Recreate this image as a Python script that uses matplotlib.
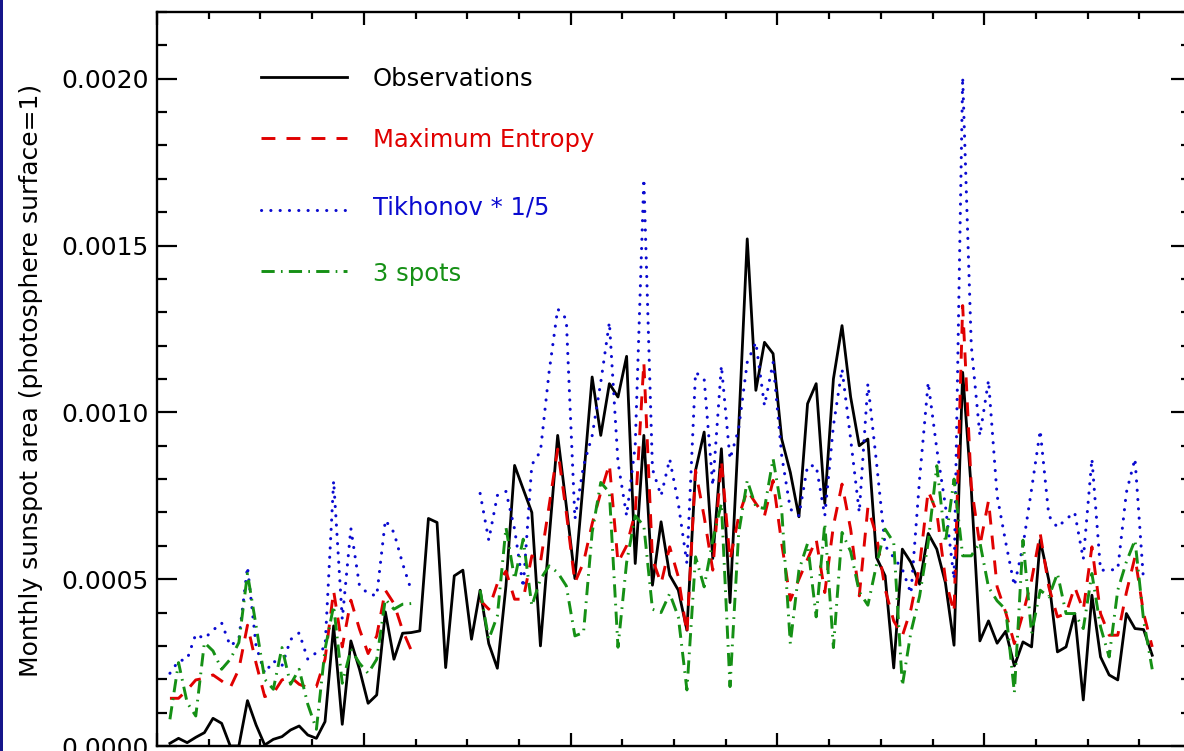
import numpy as np
import matplotlib
matplotlib.use("Agg")
import matplotlib.pyplot as plt
from matplotlib.patches import Rectangle
from matplotlib.ticker import MultipleLocator, FormatStrFormatter

plt.rcParams['font.family'] = ['DejaVu Sans']
plt.rcParams['lines.scale_dashes'] = False

nan = np.nan

# month index (data plotted at mid-month)
month = np.arange(1, 116) + 0.5

# values in units of 1e-4 (photosphere surface = 1)
obs_e4 = [0.08, 0.23, 0.10, 0.26, 0.40, 0.83, 0.68, 0.00, 0.00, 1.36,
          0.63, 0.03, 0.20, 0.28, 0.48, 0.60, 0.33, 0.23, 0.73, 3.60,
          0.65, 3.15, 2.30, 1.28, 1.53, 4.02, 2.60, 3.38, 3.40, 3.45,
          6.82, 6.70, 2.35, 5.10, 5.27, 3.20, 4.67, 3.07, 2.33, 4.80,
          8.41, 7.70, 7.00, 3.00, 6.20, 9.31, 7.20, 5.02, 8.00, 11.06,
          9.31, 10.86, 10.46, 11.68, 5.47, 9.31, 4.82, 6.72, 5.12, 4.67,
          3.47, 8.26, 9.41, 5.62, 8.91, 4.30, 9.50, 15.20, 10.66, 12.10,
          11.76, 9.20, 8.20, 6.87, 10.26, 10.86, 7.27, 11.00, 12.60, 10.46,
          9.00, 9.20, 5.65, 5.10, 2.34, 5.90, 5.50, 4.85, 6.37, 5.90,
          4.89, 3.02, 11.20, 7.70, 3.15, 3.75, 3.08, 3.44, 2.40, 3.12,
          2.97, 6.17, 4.97, 2.82, 2.97, 3.97, 1.38, 4.52, 2.67, 2.13,
          1.98, 3.97, 3.52, 3.49, 2.72]

maxent_e4 = [1.43, 1.43, 1.68, 1.98, 2.03, 2.13, 1.95, 1.75, 2.30, 3.62,
             2.48, 1.48, 1.58, 1.98, 2.07, 1.85, 1.75, 1.78, 2.60, 4.65,
             2.97, 4.37, 3.50, 2.77, 3.30, 4.67, 4.27, 3.47, 2.87, nan,
             nan, nan, nan, nan, nan, nan, 4.37, 4.10, 4.87, 5.24,
             4.40, 4.40, 5.70, 5.50, 7.19, 8.90, 7.00, 4.90, 5.50, 6.66,
             7.60, 8.45, 5.50, 6.00, 7.00, 11.50, 5.60, 4.87, 5.97, 5.07,
             3.37, 8.26, 6.87, 5.27, 8.56, 5.57, 6.87, 7.66, 7.27, 6.90,
             7.96, 6.07, 4.37, 5.00, 5.60, 6.20, 4.60, 6.60, 7.85, 6.50,
             4.50, 7.15, 6.30, 4.70, 3.75, 3.30, 4.10, 5.40, 7.65, 7.00,
             5.00, 4.00, 13.20, 7.80, 6.00, 7.35, 4.77, 4.00, 3.07, 3.97,
             4.97, 6.37, 4.77, 3.87, 3.97, 4.77, 4.07, 5.97, 3.97, 3.32,
             3.32, 4.60, 5.67, 3.97, 2.97]

tikhonov_e4 = [2.18, 2.55, 2.60, 3.35, 3.22, 3.47, 3.69, 3.00, 3.20, 5.37,
               3.00, 2.18, 2.55, 2.40, 3.19, 3.39, 2.60, 2.80, 2.95, 7.95,
               3.80, 6.52, 4.80, 4.57, 4.50, 6.77, 6.40, 5.47, 4.67, nan,
               nan, nan, nan, nan, nan, nan, 7.57, 6.17, 7.51, 7.63,
               6.50, 4.75, 8.43, 8.83, 11.20, 13.10, 12.80, 6.80, 8.40, 9.30,
               10.90, 12.70, 8.50, 6.90, 9.00, 17.00, 8.30, 7.50, 8.60, 7.27,
               5.47, 11.20, 11.00, 7.80, 11.40, 8.60, 9.50, 11.50, 12.10, 10.20,
               11.50, 8.70, 7.10, 6.90, 8.40, 8.40, 6.90, 9.60, 11.30, 9.20,
               7.00, 10.86, 8.50, 6.00, 5.65, 5.30, 4.57, 8.00, 10.90, 8.90,
               7.20, 5.00, 20.05, 12.00, 9.30, 10.96, 7.50, 6.10, 4.80, 6.00,
               7.70, 9.46, 6.90, 6.55, 6.80, 7.00, 5.60, 8.61, 5.27, 5.27,
               5.30, 7.60, 8.61, 4.92, nan]

spots3_e4 = [0.80, 2.50, 1.30, 0.90, 3.10, 2.85, 2.30, 2.60, 3.10, 5.17,
             3.60, 2.00, 1.70, 2.95, 1.85, 2.30, 1.25, 0.50, 2.90, 4.20,
             1.88, 2.90, 2.48, 2.18, 2.60, 4.40, 4.10, 4.25, 4.27, nan,
             nan, nan, nan, nan, nan, nan, 4.67, 3.20, 3.90, 6.55,
             5.00, 6.20, 4.20, 5.00, 5.40, 5.20, 4.80, 3.30, 3.40, 6.40,
             7.90, 7.60, 2.96, 5.50, 6.90, 6.60, 4.10, 4.00, 4.57, 3.87,
             1.68, 5.67, 4.77, 6.17, 7.27, 1.78, 6.37, 7.96, 7.17, 7.12,
             8.61, 7.07, 3.07, 5.27, 6.07, 3.87, 6.67, 2.95, 6.40, 5.83,
             4.62, 4.22, 5.43, 6.50, 6.10, 1.81, 3.42, 4.49, 6.10, 8.40,
             6.10, 8.00, 5.70, 5.70, 6.10, 4.76, 4.35, 4.09, 1.60, 6.17,
             3.37, 4.67, 4.47, 5.17, 3.97, 3.97, 3.52, 5.17, 3.57, 2.67,
             4.67, 5.52, 6.17, 3.77, 2.30]

series_labels = ['Observations', 'Maximum Entropy', 'Tikhonov * 1/5', '3 spots']
ylabel_text = 'Monthly sunspot area (photosphere surface=1)'

scale = 1e-4
obs = np.array(obs_e4) * scale
maxent = np.array(maxent_e4) * scale
tikh = np.array(tikhonov_e4) * scale
spots = np.array(spots3_e4) * scale

# ---- styles ----
C_BLACK = 'black'
C_RED = '#e00000'
C_BLUE = '#0a0ad0'
C_GREEN = '#159015'
styles = [
    dict(color=C_BLACK, lw=2.0, linestyle='-'),
    dict(color=C_RED, lw=2.1, linestyle=(0, (10, 8))),
    dict(color=C_BLUE, lw=2.2, linestyle=(0, (0.1, 6.6)), dash_capstyle='round'),
    dict(color=C_GREEN, lw=2.1, linestyle=(0, (9.5, 4.5, 1.2, 4.5))),
]
data = [obs, maxent, tikh, spots]

W, H = 1184, 751
fig = plt.figure(figsize=(W / 100, H / 100), dpi=100)
fig.patch.set_facecolor('white')

L_PX, R_PX, T_PX, B_PX = 157, 1191, 12, 746
ax = fig.add_axes([L_PX / W, (H - B_PX) / H, (R_PX - L_PX) / W, (B_PX - T_PX) / H])

for y, st in zip(data, styles):
    ax.plot(month, y, **st)

ax.set_xlim(0, 120)
ax.set_ylim(0, 0.0022)

ax.xaxis.set_major_locator(MultipleLocator(24))
ax.xaxis.set_minor_locator(MultipleLocator(6))
ax.yaxis.set_major_locator(MultipleLocator(0.0005))
ax.yaxis.set_minor_locator(MultipleLocator(0.0001))
ax.yaxis.set_major_formatter(FormatStrFormatter('%.4f'))

ax.tick_params(axis='both', which='both', direction='in', top=True, right=True,
               width=1.6, color='black')
ax.tick_params(axis='x', which='major', length=9.5, labelbottom=False)
ax.tick_params(axis='x', which='minor', length=4.8)
ax.tick_params(axis='y', which='major', length=14.5, labelsize=18, pad=6)
ax.tick_params(axis='y', which='minor', length=7.2)
for s in ax.spines.values():
    s.set_linewidth(1.7)

# ---- legend drawn in the plot ----
def axc(px, py):
    return (px - L_PX) / (R_PX - L_PX), (B_PX - py) / (B_PX - T_PX)

rows_line = [77, 138, 210, 271]
rows_text = [77, 138, 205, 271]
txt_colors = [C_BLACK, C_RED, C_BLUE, C_GREEN]
for lab, st, yl, yt, tc in zip(series_labels, styles, rows_line, rows_text, txt_colors):
    x0, y0 = axc(261, yl)
    x1, _ = axc(347, yl)
    ax.plot([x0, x1], [y0, y0], transform=ax.transAxes, clip_on=False, **st)
    xt, ytt = axc(373, yt)
    ax.text(xt, ytt, lab, transform=ax.transAxes, color=tc, fontsize=17.5,
            ha='left', va='center_baseline')

fig.text(31 / W, 1 - 380 / H, ylabel_text, rotation=90, ha='center', va='center',
         fontsize=18)

# navy slide border on the left
fig.patches.append(Rectangle((0, 0), 3 / W, 1, transform=fig.transFigure,
                             facecolor='#16168a', edgecolor='none', zorder=10))

fig.savefig('out.png', dpi=100)
